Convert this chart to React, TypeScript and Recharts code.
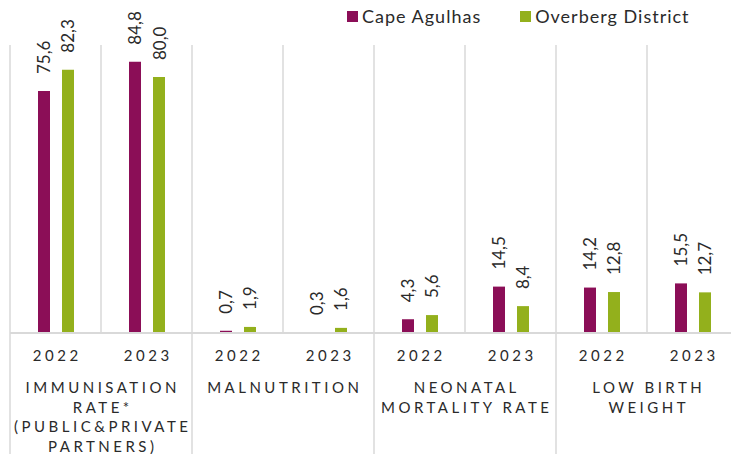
import React from "react";
import { BarChart, Bar, XAxis, YAxis, CartesianGrid, LabelList } from "recharts";

const years = ["2022", "2023", "2022", "2023", "2022", "2023", "2022", "2023"];
const capeAgulhas = [75.6, 84.8, 0.7, 0.3, 4.3, 14.5, 14.2, 15.5];
const overberg = [82.3, 80.0, 1.9, 1.6, 5.6, 8.4, 12.8, 12.7];
const groupLabels: string[][] = [
  ["IMMUNISATION", "RATE*", "(PUBLIC&PRIVATE", "PARTNERS)"],
  ["MALNUTRITION"],
  ["NEONATAL", "MORTALITY RATE"],
  ["LOW BIRTH", "WEIGHT"],
];
const seriesNames = ["Cape Agulhas", "Overberg District"];
const seriesColors = ["#8B0E57", "#93B01C"];

const data = years.map((y, i) => ({
  year: y,
  cape: capeAgulhas[i],
  overberg: overberg[i],
}));

const CHART_W = 740;
const CHART_H = 454;
const XAXIS_H = 30;
const MARGIN = { top: 45, right: 2, left: 10, bottom: 121 - XAXIS_H };
const BAND = (CHART_W - MARGIN.left - MARGIN.right) / data.length;
const FONT = "Lato, 'DejaVu Sans', sans-serif";
const TEXT = "#2a2a2a";
const GRID = "#d9d9d9";

const fmt = (v: number) => v.toFixed(1).replace(".", ",");

const renderLabel = (props: any) => {
  const { x, y, width, value } = props;
  const cx = Number(x) + Number(width) / 2;
  const ty = Number(y) - 17;
  return (
    <text
      x={cx}
      y={ty}
      transform={`rotate(-90 ${cx} ${ty})`}
      textAnchor="start"
      dominantBaseline="central"
      fontSize={17}
      fontFamily={FONT}
      fill={TEXT}
    >
      {fmt(Number(value))}
    </text>
  );
};

const Tick = (props: any) => {
  const { x, y, payload } = props;
  const index = payload.index;
  const ls = 3.5;
  const els: React.ReactNode[] = [];
  els.push(
    <text
      key="yr"
      x={x + ls / 2}
      y={y + 28}
      textAnchor="middle"
      fontSize={15}
      letterSpacing={ls}
      fontFamily={FONT}
      fill={TEXT}
    >
      {payload.value}
    </text>
  );
  if (index % 2 === 0) {
    const g = groupLabels[index / 2];
    const gx = x + BAND / 2;
    els.push(
      <line key="sep" x1={x - BAND / 2} x2={x - BAND / 2} y1={y} y2={y + 125} stroke={GRID} strokeWidth={1.5} />
    );
    g.forEach((line, i) => {
      els.push(
        <text
          key={"g" + i}
          x={gx + ls / 2}
          y={y + 60 + i * 19.5}
          textAnchor="middle"
          fontSize={15}
          letterSpacing={ls}
          fontFamily={FONT}
          fill={TEXT}
        >
          {line}
        </text>
      );
    });
  }
  return <g>{els}</g>;
};

export default function App() {
  return (
    <div
      style={{
        position: "absolute",
        left: 0,
        top: 0,
        width: 731,
        height: 454,
        overflow: "hidden",
        background: "#fff",
      }}
    >
      <BarChart width={CHART_W} height={CHART_H} data={data} margin={MARGIN} barSize={12} barGap={12}>
        <CartesianGrid
          horizontal={false}
          stroke={GRID}
          strokeWidth={1.5}
          verticalCoordinatesGenerator={({ offset }: any) =>
            data.map((_, i) => offset.left + i * (offset.width / data.length)).concat([offset.left + offset.width])
          }
        />
        <YAxis hide domain={[0, 90]} />
        <XAxis
          dataKey="year"
          height={XAXIS_H}
          tickLine={false}
          tickSize={0}
          tickMargin={0}
          axisLine={{ stroke: GRID, strokeWidth: 2 }}
          tick={<Tick />}
          interval={0}
        />
        <Bar dataKey="cape" fill={seriesColors[0]} isAnimationActive={false}>
          <LabelList dataKey="cape" content={renderLabel} />
        </Bar>
        <Bar dataKey="overberg" fill={seriesColors[1]} isAnimationActive={false}>
          <LabelList dataKey="overberg" content={renderLabel} />
        </Bar>
      </BarChart>
      <div
        style={{
          position: "absolute",
          left: 347,
          top: 7,
          display: "flex",
          alignItems: "center",
          fontFamily: FONT,
          fontSize: 18,
          lineHeight: "18px",
          color: TEXT,
          letterSpacing: 1.0,
          whiteSpace: "nowrap",
        }}
      >
        {seriesNames.map((n, i) => (
          <div key={n} style={{ display: "flex", alignItems: "center", marginLeft: i === 0 ? 0 : 39 }}>
            <span style={{ width: 11, height: 11, background: seriesColors[i], marginRight: 4, display: "inline-block" }} />
            <span>{n}</span>
          </div>
        ))}
      </div>
    </div>
  );
}
